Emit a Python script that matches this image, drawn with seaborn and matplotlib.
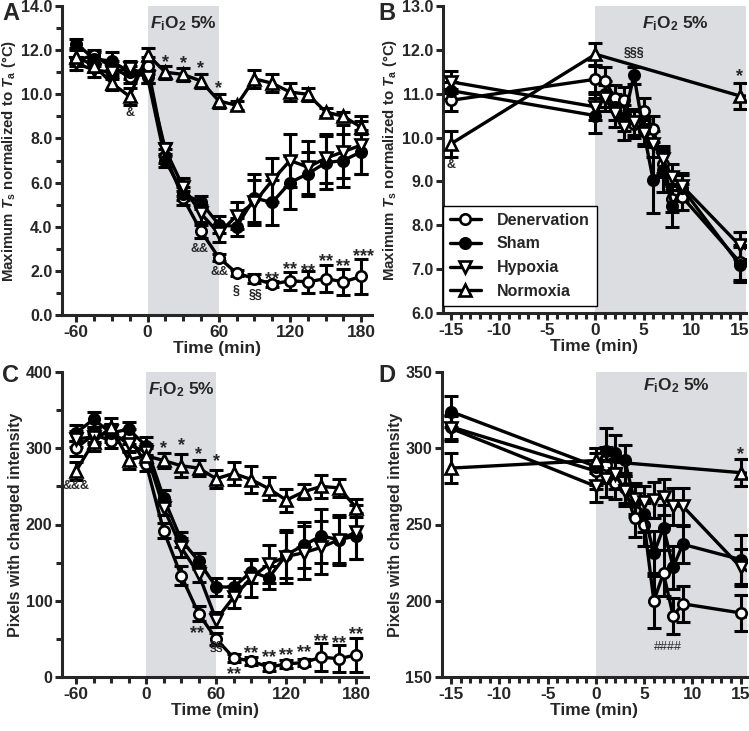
import numpy as np
import pandas as pd
import matplotlib
matplotlib.use("Agg")
import matplotlib.pyplot as plt
from matplotlib.lines import Line2D
import seaborn as sns

# ---------------- data ----------------
t_long = [-60, -45, -30, -15, 0, 15, 30, 45, 60, 75, 90, 105, 120, 135, 150, 165, 180]
t_short = [-15, 0, 1, 2, 3, 4, 5, 6, 7, 8, 9, 15, 30]
t_short_norm = [-15, 0, 15, 30]

# Panel A: maximum Ts normalized to Ta (degC)
A_den = [11.5, 11.8, 11.2, 10.8, 11.3, 7.2, 5.3, 3.8, 2.6, 1.9, 1.65, 1.4, 1.55, 1.5, 1.65, 1.5, 1.75]
A_den_err = [0.2, 0.2, 0.3, 0.3, 0.4, 0.3, 0.3, 0.3, 0.15, 0.15, 0.2, 0.15, 0.4, 0.5, 0.6, 0.6, 0.8]
A_sham = [12.3, 11.6, 11.5, 11.0, 10.8, 7.0, 5.5, 5.1, 4.1, 4.0, 5.3, 5.1, 6.0, 6.4, 6.9, 7.0, 7.4]
A_sham_err = [0.2, 0.3, 0.4, 0.3, 0.3, 0.3, 0.3, 0.3, 0.4, 0.4, 1.1, 1.0, 1.2, 1.0, 1.2, 1.2, 1.0]
A_hyp = [11.4, 11.1, 11.0, 11.2, 10.8, 7.5, 5.8, 4.6, 3.7, 4.5, 5.1, 6.1, 7.0, 6.7, 7.1, 7.4, 7.7]
A_hyp_err = [0.3, 0.3, 0.3, 0.3, 0.3, 0.3, 0.4, 0.4, 0.4, 0.6, 1.0, 1.0, 1.2, 1.2, 1.1, 1.2, 1.3]
A_norm = [11.7, 11.3, 10.5, 9.9, 11.8, 11.0, 10.9, 10.6, 9.7, 9.5, 10.7, 10.5, 10.1, 10.0, 9.2, 9.0, 8.5]
A_norm_err = [0.3, 0.3, 0.3, 0.4, 0.3, 0.3, 0.3, 0.3, 0.3, 0.2, 0.4, 0.4, 0.4, 0.3, 0.2, 0.2, 0.3]

# Panel B: zoom of the first minutes (last point = 30 min, off-axis)
B_den = [10.85, 11.33, 11.3, 10.9, 10.85, 10.3, 10.6, 10.2, 9.4, 8.6, 8.65, 7.16, 5.3]
B_den_err = [0.25, 0.3, 0.3, 0.3, 0.3, 0.3, 0.3, 0.3, 0.3, 0.3, 0.3, 0.4, 0.3]
B_sham = [11.07, 10.5, 11.0, 10.7, 10.45, 11.42, 10.15, 9.03, 9.25, 8.45, 8.85, 7.1, 5.5]
B_sham_err = [0.2, 0.4, 0.3, 0.3, 0.3, 0.2, 0.3, 0.75, 0.5, 0.5, 0.3, 0.4, 0.3]
B_hyp = [11.27, 10.7, 10.9, 10.55, 10.25, 10.35, 10.1, 9.85, 9.5, 9.1, 8.9, 7.54, 5.8]
B_hyp_err = [0.25, 0.3, 0.3, 0.3, 0.3, 0.3, 0.3, 0.3, 0.3, 0.3, 0.3, 0.3, 0.4]
B_norm = [9.86, 11.9, 10.95, 10.9]
B_norm_err = [0.3, 0.25, 0.3, 0.3]

# Panel C: pixels with changed intensity
C_den = [300, 318, 310, 315, 280, 192, 133, 83, 50, 25, 21, 13, 17, 19, 26, 24, 29]
C_den_err = [10, 10, 10, 10, 10, 10, 12, 10, 8, 5, 5, 5, 5, 5, 18, 18, 22]
C_sham = [320, 338, 320, 325, 303, 235, 180, 152, 118, 118, 138, 130, 160, 173, 185, 180, 185]
C_sham_err = [10, 10, 12, 10, 12, 10, 10, 10, 12, 12, 15, 15, 30, 30, 35, 30, 30]
C_hyp = [312, 315, 322, 305, 295, 222, 170, 135, 75, 105, 130, 148, 158, 163, 170, 180, 190]
C_hyp_err = [10, 10, 10, 10, 10, 10, 12, 10, 10, 15, 25, 25, 35, 35, 35, 33, 35]
C_norm = [270, 308, 328, 285, 290, 284, 277, 274, 260, 267, 259, 247, 232, 243, 250, 248, 222]
C_norm_err = [12, 12, 12, 12, 10, 10, 15, 10, 12, 15, 18, 15, 15, 10, 15, 12, 12]

# Panel D: zoom of the first minutes (last point = 30 min, off-axis)
D_den = [314, 285, 289, 277, 274, 254, 250, 200, 218, 190, 198, 192, 133]
D_den_err = [8, 12, 12, 10, 10, 12, 14, 18, 15, 12, 12, 12, 12]
D_sham = [324, 288, 298, 297, 292, 265, 257, 231, 248, 222, 237, 227, 180]
D_sham_err = [10, 12, 15, 12, 10, 10, 12, 15, 15, 14, 12, 16, 10]
D_hyp = [313, 275, 280, 283, 272, 267, 265, 266, 268, 262, 262, 222, 170]
D_hyp_err = [8, 10, 12, 10, 10, 10, 10, 12, 12, 12, 12, 12, 12]
D_norm = [287, 292, 284, 277]
D_norm_err = [10, 8, 9, 15]

group_names = ["Denervation", "Sham", "Hypoxia", "Normoxia"]

# ---------------- style ----------------
sns.set_style("ticks")
plt.rcParams["font.family"] = ["Liberation Sans", "DejaVu Sans"]
plt.rcParams["font.weight"] = "bold"
plt.rcParams["mathtext.fontset"] = "custom"
plt.rcParams["mathtext.rm"] = "Liberation Sans:bold"
plt.rcParams["mathtext.it"] = "Liberation Sans:italic:bold"
plt.rcParams["mathtext.bf"] = "Liberation Sans:bold"
plt.rcParams["axes.linewidth"] = 2.2

styles = {
    "Denervation": dict(marker="o", ms=7.5, mfc="white"),
    "Sham": dict(marker="o", ms=7.5, mfc="black"),
    "Hypoxia": dict(marker="v", ms=9, mfc="white"),
    "Normoxia": dict(marker="^", ms=9, mfc="white"),
}
SHADE = "#dcdde0"

fig = plt.figure(figsize=(7.49, 7.31), dpi=100)
W, H = 749, 731


def add_ax(l, r, t, b):
    return fig.add_axes([l / W, 1 - b / H, (r - l) / W, (b - t) / H])


axA = add_ax(62, 372, 6, 315)
axB = add_ax(443, 746, 6, 313)
axC = add_ax(62, 368, 372, 677)
axD = add_ax(442, 747, 372, 677)


def draw(ax, x, y, err, name):
    st = styles[name]
    ax.errorbar(x, y, yerr=err, fmt="none", ecolor="black", elinewidth=2.2,
                capsize=5, capthick=2.2, zorder=3, clip_on=True)
    df = pd.DataFrame({"t": x, "v": y})
    sns.lineplot(data=df, x="t", y="v", ax=ax, color="black", linewidth=2.4,
                 marker=st["marker"], markersize=st["ms"], markerfacecolor=st["mfc"],
                 markeredgecolor="black", markeredgewidth=1.9, estimator=None,
                 sort=False, legend=False, zorder=4)


def style_axis(ax, xlim, ylim, xmaj, xmin, ymaj, ymin, ylabel, yfmt, shade, ylab_size):
    ax.axvspan(shade[0], shade[1], color=SHADE, zorder=0, lw=0)
    ax.set_xlim(*xlim)
    ax.set_ylim(*ylim)
    ax.set_xticks(xmaj)
    ax.set_xticks(xmin, minor=True)
    ax.set_yticks(ymaj)
    if ymin is not None:
        ax.set_yticks(ymin, minor=True)
    ax.set_yticklabels([yfmt.format(v) for v in ymaj])
    ax.set_xticklabels([str(v) for v in xmaj])
    ax.tick_params(axis="both", which="major", length=5, width=2.2, pad=2)
    ax.tick_params(axis="x", which="major", labelsize=12.5)
    ax.tick_params(axis="y", which="major", labelsize=11.5)
    ax.tick_params(axis="both", which="minor", length=4, width=2.2)
    for s in ["top", "right"]:
        ax.spines[s].set_visible(False)
    ax.set_xlabel("Time (min)", fontsize=12.5, fontweight="bold", labelpad=1)
    ax.set_ylabel(ylabel, fontsize=ylab_size, fontweight="bold", labelpad=2)


ylab_T = r"Maximum $T_{\mathrm{s}}$ normalized to $T_{\mathrm{a}}$ ($\degree$C)"
ylab_P = "Pixels with changed intensity"
fio2 = r"$\mathit{F}_{\mathrm{i}}\mathrm{O}_{2}$ 5%"

# Panel A
for name, y, e in zip(group_names, [A_den, A_sham, A_hyp, A_norm],
                      [A_den_err, A_sham_err, A_hyp_err, A_norm_err]):
    draw(axA, t_long, y, e, name)
style_axis(axA, (-72, 189), (0, 14), [-60, 0, 60, 120, 180],
           [-45, -30, -15, 15, 30, 45, 75, 90, 105, 135, 150, 165],
           [0, 2, 4, 6, 8, 10, 12, 14], [1, 3, 5, 7, 9, 11, 13], ylab_T, "{:.1f}", (0, 60), 10.8)

# Panel B
for name, x, y, e in zip(group_names, [t_short, t_short, t_short, t_short_norm],
                         [B_den, B_sham, B_hyp, B_norm],
                         [B_den_err, B_sham_err, B_hyp_err, B_norm_err]):
    draw(axB, x, y, e, name)
style_axis(axB, (-15.85, 15.65), (6, 13), [-15, -10, -5, 0, 5, 10, 15],
           list(range(-15, 16)), [6, 7, 8, 9, 10, 11, 12, 13], None, ylab_T, "{:.1f}", (0, 20), 10.8)

# Panel C
for name, y, e in zip(group_names, [C_den, C_sham, C_hyp, C_norm],
                      [C_den_err, C_sham_err, C_hyp_err, C_norm_err]):
    draw(axC, t_long, y, e, name)
style_axis(axC, (-72, 190), (0, 400), [-60, 0, 60, 120, 180],
           [-45, -30, -15, 15, 30, 45, 75, 90, 105, 135, 150, 165],
           [0, 100, 200, 300, 400], [50, 150, 250, 350], ylab_P, "{:.0f}", (0, 60), 11.5)

# Panel D
for name, x, y, e in zip(group_names, [t_short, t_short, t_short, t_short_norm],
                         [D_den, D_sham, D_hyp, D_norm],
                         [D_den_err, D_sham_err, D_hyp_err, D_norm_err]):
    draw(axD, x, y, e, name)
style_axis(axD, (-15.95, 15.65), (150, 350), [-15, -10, -5, 0, 5, 10, 15],
           list(range(-15, 16)), [150, 200, 250, 300, 350], None, ylab_P, "{:.0f}", (0, 20), 11.5)

# FiO2 labels
axA.text(30, 13.2, fio2, ha="center", va="center", fontsize=12.5)
axB.text(8.3, 12.6, fio2, ha="center", va="center", fontsize=12.5)
axC.text(30, 377, fio2, ha="center", va="center", fontsize=12.5)
axD.text(8.3, 341, fio2, ha="center", va="center", fontsize=12.5)

# Legend in B
handles = [Line2D([], [], color="black", lw=2.4, marker=styles[n]["marker"],
                  markersize=styles[n]["ms"], markerfacecolor=styles[n]["mfc"],
                  markeredgecolor="black", markeredgewidth=1.9) for n in group_names]
leg = axB.legend(handles, group_names, loc="lower left", bbox_to_anchor=(0.0, 0.022),
                 frameon=True, fancybox=False, framealpha=1, edgecolor="black",
                 prop=dict(size=11.5, weight="bold"), handlelength=1.9,
                 borderaxespad=0, labelspacing=0.55, handletextpad=1.0, borderpad=0.45)
leg.get_frame().set_linewidth(1.0)
leg.set_zorder(10)

# Significance annotations
def ann(ax, x, y, s, size=12, weight="bold"):
    ax.text(x, y, s, ha="center", va="center", fontsize=size, fontweight=weight, zorder=6)

ast = 13
for x, y in [(15, 11.45), (30, 11.4), (45, 11.15), (60, 10.25)]:
    ann(axA, x, y, "*", ast)
ann(axA, -15, 9.15, "&", 9)
ann(axA, 44, 3.0, "&&", 9)
ann(axA, 61, 1.95, "&&", 9)
ann(axA, 75, 1.1, "§", 9)
ann(axA, 91, 0.9, "§§", 9)
for x, y, s in [(105, 1.6, "**"), (120, 2.05, "**"), (135, 1.95, "**"),
                (150, 2.4, "**"), (165, 2.2, "**"), (182, 2.65, "***")]:
    ann(axA, x, y, s, ast)

ann(axB, 4, 11.92, "§§§", 9)
ann(axB, -15, 9.37, "&", 9)
ann(axB, 15, 11.4, "*", ast)

ann(axC, -60, 250, "&&&", 9)
for x, y in [(15, 300), (30, 303), (45, 292), (60, 283)]:
    ann(axC, x, y, "*", ast)
ann(axC, 44, 57, "**", ast)
ann(axC, 60, 39, "§§", 9)
ann(axC, 75, 3, "**", ast)
for x, y in [(90, 31), (105, 25), (120, 28), (135, 32), (150, 47), (165, 44), (180, 55)]:
    ann(axC, x, y, "**", ast)

ann(axD, 15, 296, "*", ast)
ann(axD, 7.5, 170, "####", 9, "normal")

# Panel letters
fig.text(2 / W, 1 - 2 / H, "A", fontsize=17, fontweight="bold", ha="left", va="top")
fig.text(378 / W, 1 - 2 / H, "B", fontsize=17, fontweight="bold", ha="left", va="top")
fig.text(2 / W, 1 - 364 / H, "C", fontsize=17, fontweight="bold", ha="left", va="top")
fig.text(378 / W, 1 - 364 / H, "D", fontsize=17, fontweight="bold", ha="left", va="top")

fig.savefig("out.png", dpi=100)
